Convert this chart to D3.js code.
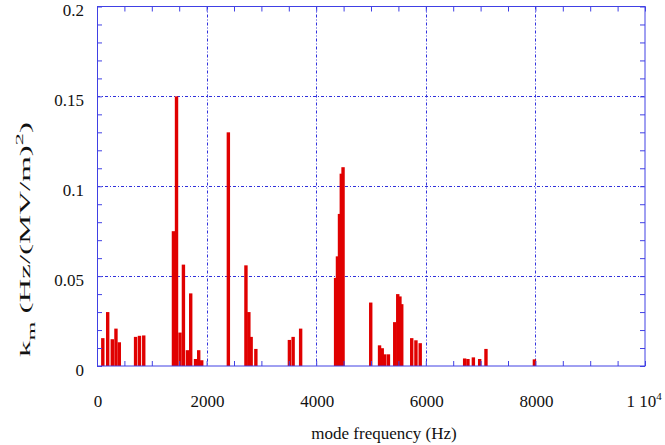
<!DOCTYPE html>
<html>
<head>
<meta charset="utf-8">
<script src="https://cdn.jsdelivr.net/npm/d3@7"></script>
<style>
  body { margin: 0; background: #fff; }
</style>
</head>
<body>
<svg id="chart" width="665" height="445"></svg>
<script>
// mode frequency (Hz) and k_m values
const freq = [106, 195, 279, 346, 407, 704, 775, 853,
    1395, 1451, 1515, 1577, 1650, 1710, 1798, 1856, 1911,
    2397, 2718, 2771, 2813, 2899,
    3511, 3579, 3716,
    4354, 4388, 4425, 4458, 4490,
    4995, 5156, 5205, 5251, 5318, 5433, 5488, 5528, 5561,
    5743, 5820, 5898,
    6709, 6769, 6868, 6983, 7098, 7982];
const kval = [0.0155, 0.030, 0.0149, 0.0208, 0.0132, 0.0162, 0.0168, 0.017,
    0.075, 0.150, 0.0186, 0.0564, 0.0088, 0.0404, 0.0039, 0.0088, 0.0032,
    0.130, 0.056, 0.030, 0.0162, 0.0095,
    0.0145, 0.0162, 0.0208,
    0.049, 0.061, 0.0846, 0.107, 0.1106,
    0.0353, 0.0115, 0.0099, 0.0065, 0.0065, 0.0244, 0.040, 0.0387, 0.0344,
    0.0155, 0.0143, 0.0127,
    0.0042, 0.0039, 0.0048, 0.0039, 0.0095, 0.0037];

const xTicks = [0, 2000, 4000, 6000, 8000];
const xTickLabels = ["0", "2000", "4000", "6000", "8000"];
const yTicks = [0, 0.05, 0.1, 0.15, 0.2];
const yTickLabels = ["0", "0.05", "0.1", "0.15", "0.2"];

const barW = 62; // Hz
const blue = "#4040e4";
const serif = "'Liberation Serif', 'Times New Roman', serif";

const svg = d3.select("#chart")
    .style("font-family", serif);

const x = d3.scaleLinear().domain([0, 10000]).range([97, 645]);
const y = d3.scaleLinear().domain([0, 0.2]).range([366, 6.5]);

// grid lines
svg.append("g").selectAll("line")
    .data(xTicks.slice(1))
    .join("line")
    .attr("x1", d => Math.round(x(d)) + 0.5).attr("x2", d => Math.round(x(d)) + 0.5)
    .attr("y1", y(0.2)).attr("y2", y(0))
    .attr("stroke", "#3030dc").attr("stroke-dasharray", "3,2,1,2");
svg.append("g").selectAll("line")
    .data(yTicks.slice(1, -1))
    .join("line")
    .attr("y1", d => Math.round(y(d)) + 0.5).attr("y2", d => Math.round(y(d)) + 0.5)
    .attr("x1", x(0)).attr("x2", x(10000))
    .attr("stroke", "#3030dc").attr("stroke-dasharray", "3,2,1,2");

// bars
svg.append("g").selectAll("rect")
    .data(freq)
    .join("rect")
    .attr("x", d => x(d - barW / 2))
    .attr("width", x(barW) - x(0))
    .attr("y", (d, i) => y(kval[i]))
    .attr("height", (d, i) => y(0) - y(kval[i]))
    .attr("fill", "#e00000");

// minor ticks, all pointing inward
const xMinor = d3.range(0, 10001, 500);
const yMinor = d3.range(0, 0.2001, 0.01);
function tickStyle(g) {
    g.select(".domain").remove();
    g.selectAll(".tick line").attr("stroke", blue);
    g.selectAll(".tick text").remove();
}
svg.append("g").attr("transform", `translate(0,${y(0)})`)
    .call(d3.axisBottom(x).tickValues(xMinor).tickSize(-5).tickFormat(""))
    .call(tickStyle);
svg.append("g").attr("transform", `translate(0,${y(0.2)})`)
    .call(d3.axisTop(x).tickValues(xMinor).tickSize(-5).tickFormat(""))
    .call(tickStyle);
svg.append("g").attr("transform", `translate(${x(0)},0)`)
    .call(d3.axisLeft(y).tickValues(yMinor).tickSize(-5).tickFormat(""))
    .call(tickStyle);
svg.append("g").attr("transform", `translate(${x(10000)},0)`)
    .call(d3.axisRight(y).tickValues(yMinor).tickSize(-5).tickFormat(""))
    .call(tickStyle);

// frame
svg.append("rect")
    .attr("x", x(0) + 0.5).attr("y", y(0.2))
    .attr("width", x(10000) - x(0) - 0.5).attr("height", y(0) - y(0.2))
    .attr("fill", "none").attr("stroke", blue);

// tick labels
const labels = svg.append("g")
    .style("font-family", serif)
    .attr("fill", "#111")
    .attr("font-size", 17);
labels.selectAll("text.xl")
    .data(xTicks)
    .join("text")
    .attr("class", "xl")
    .attr("x", d => x(d) + 1)
    .attr("y", 406.5)
    .attr("text-anchor", "middle")
    .text((d, i) => xTickLabels[i]);
const last = labels.append("text")
    .attr("x", x(10000) - 1).attr("y", 406.5)
    .attr("text-anchor", "middle");
last.append("tspan").text("1 10");
last.append("tspan").attr("font-size", 11).attr("dy", -7).text("4");

labels.selectAll("text.yl")
    .data(yTicks)
    .join("text")
    .attr("class", "yl")
    .attr("x", 84)
    .attr("y", d => y(d) + 9.5)
    .attr("text-anchor", "end")
    .text((d, i) => yTickLabels[i]);

// axis titles
labels.append("text")
    .attr("x", 384).attr("y", 439)
    .attr("text-anchor", "middle")
    .text("mode frequency (Hz)");

// y title: stretched along its length as in the original
const yt = labels.append("text")
    .attr("font-size", 15);
yt.append("tspan").text("k");
yt.append("tspan").attr("font-size", 11).attr("dy", 5).text("m");
yt.append("tspan").attr("dy", -5).text(" (Hz/(MV/m)");
yt.append("tspan").attr("font-size", 11).attr("dy", -7).text("2");
yt.append("tspan").attr("dy", 7).text(")");
const natural = yt.node().getComputedTextLength();
yt.attr("transform", `translate(30,357) rotate(-90) scale(${235 / natural},1)`);
</script>
</body>
</html>
